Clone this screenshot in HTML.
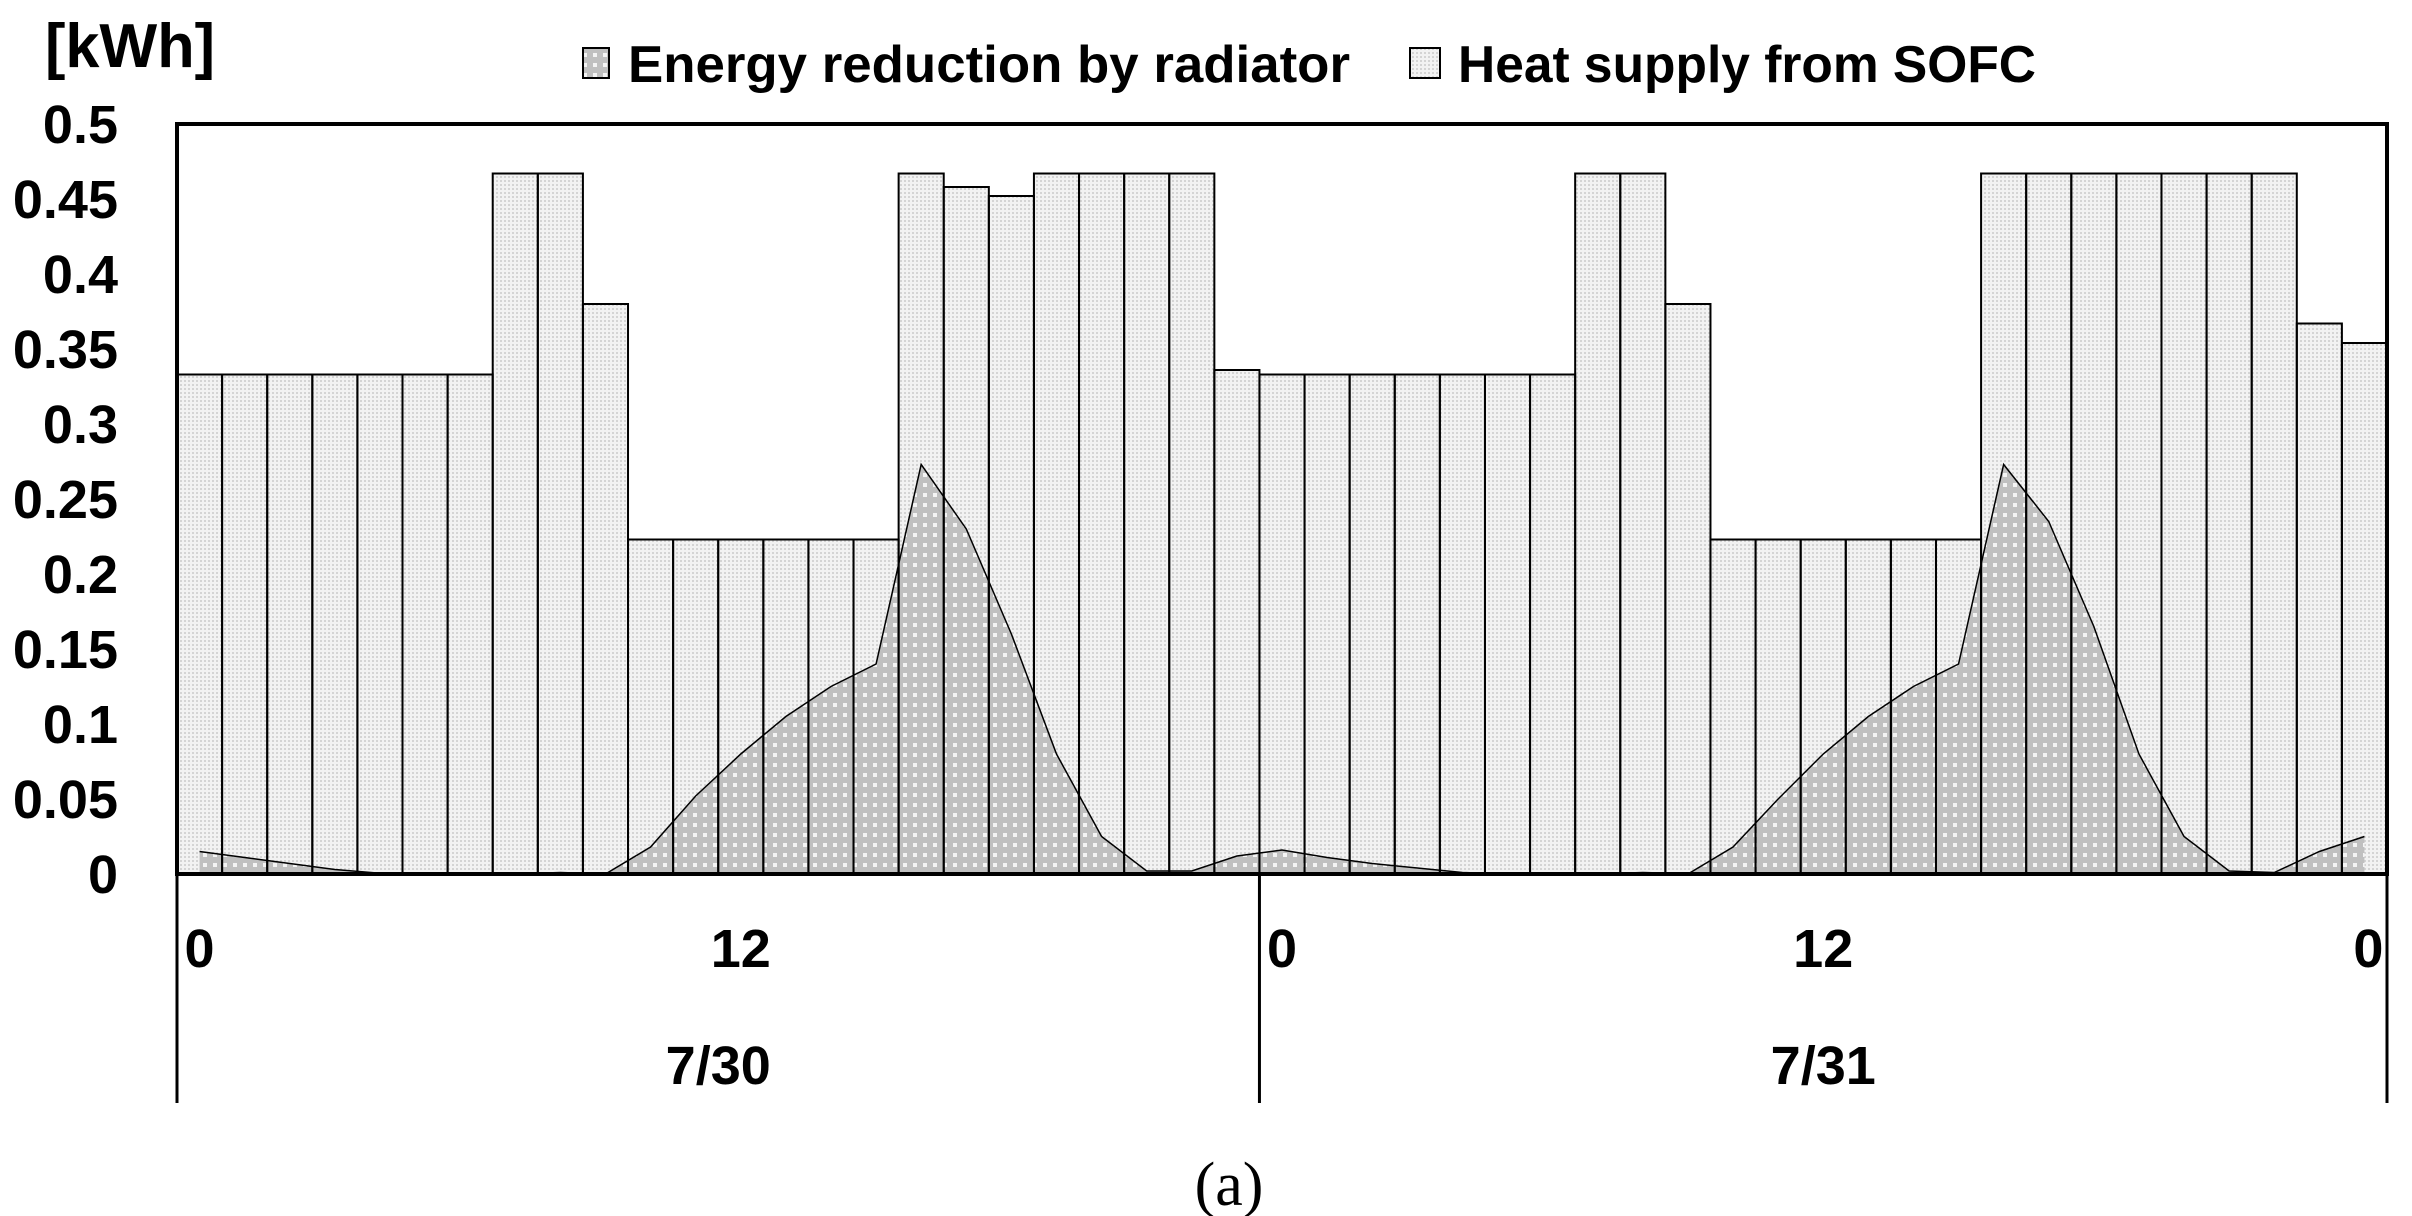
<!DOCTYPE html>
<html><head><meta charset="utf-8"><style>
html,body{margin:0;padding:0;background:#fff;}
svg{display:block;}
text{font-family:"Liberation Sans",sans-serif;font-weight:bold;fill:#000;}
</style></head><body>
<svg id="chart" width="2412" height="1216" viewBox="0 0 2412 1216" xmlns="http://www.w3.org/2000/svg">
<defs>
<pattern id="barPat" width="4" height="4" patternUnits="userSpaceOnUse">
<rect width="4" height="4" fill="#f2f2f2"/><rect width="2" height="2" fill="#d4d4d4"/>
</pattern>
<pattern id="areaPat" width="10" height="10" patternUnits="userSpaceOnUse">
<rect width="10" height="10" fill="#c0c0c0"/><rect x="3" y="3" width="4" height="4" fill="#f4f4f4"/>
</pattern>
</defs>
<g id="legend">
<rect x="583" y="48" width="26" height="30" fill="url(#areaPat)" stroke="#000" stroke-width="2"/>
<text x="628" y="82" font-size="52" textLength="722" lengthAdjust="spacingAndGlyphs">Energy reduction by radiator</text>
<rect x="1410" y="48" width="30" height="30" fill="url(#barPat)" stroke="#000" stroke-width="2"/>
<text x="1458" y="82" font-size="52" textLength="578" lengthAdjust="spacingAndGlyphs">Heat supply from SOFC</text>
</g>
<text x="45" y="67" font-size="62" textLength="170" lengthAdjust="spacingAndGlyphs">[kWh]</text>
<g id="bars"></g>
<g id="area"></g>
<g id="barlines"></g>
<g id="yticks"></g>
<g id="xaxis"></g>
<text x="1229" y="1205" font-size="62" text-anchor="middle" style="font-family:'Liberation Serif',serif;font-weight:normal">(a)</text>
</svg>
<script>
const heatSupply = [0.333,0.333,0.333,0.333,0.333,0.333,0.333,0.467,0.467,0.38,0.223,0.223,0.223,0.223,0.223,0.223,0.467,0.458,0.452,0.467,0.467,0.467,0.467,0.336,
0.333,0.333,0.333,0.333,0.333,0.333,0.333,0.467,0.467,0.38,0.223,0.223,0.223,0.223,0.223,0.223,0.467,0.467,0.467,0.467,0.467,0.467,0.467,0.367,0.354];
const radiator = [0.015,0.011,0.007,0.003,0.0005,0,0,0,0.001,0,0.018,0.052,0.08,0.105,0.125,0.14,0.273,0.23,0.16,0.08,0.025,0.002,0.002,0.012,
0.016,0.011,0.007,0.004,0.001,0,0,0,0.001,0,0.018,0.05,0.08,0.105,0.125,0.14,0.273,0.235,0.165,0.08,0.025,0.002,0.001,0.015,0.025];
const yTicks = [0,0.05,0.1,0.15,0.2,0.25,0.3,0.35,0.4,0.45,0.5];
const yTickLabels = ["0","0.05","0.1","0.15","0.2","0.25","0.3","0.35","0.4","0.45","0.5"];
const hourTickIdx = [0,12,24,36,48];
const hourTickLabels = ["0","12","0","12","0"];
const dayLabels = ["7/30","7/31"];
const dayStarts = [0,24];
const dayEnds = [24,49];

const NS="http://www.w3.org/2000/svg";
const L=177,R=2387,T=124,Z=874,YMAX=0.5;
const n=heatSupply.length;
const bw=(R-L)/n;
const xs=i=>L+i*bw;
const xc=i=>L+(i+0.5)*bw;
const ys=v=>Z-(v/YMAX)*(Z-T);
function mk(tag,attrs,parent){const e=document.createElementNS(NS,tag);for(const k in attrs)e.setAttribute(k,attrs[k]);parent.appendChild(e);return e;}
const gB=document.getElementById('bars'),gA=document.getElementById('area'),gL=document.getElementById('barlines'),gY=document.getElementById('yticks'),gX=document.getElementById('xaxis');
heatSupply.forEach((v,i)=>{
  const r=mk('rect',{x:xs(i),y:ys(v),width:bw,height:Z-ys(v),fill:'url(#barPat)'},gB);
  
  
});
let d='M'+xc(0)+','+Z;
radiator.forEach((v,i)=>{d+=' L'+xc(i)+','+ys(v);});
d+=' L'+xc(n-1)+','+Z+' Z';
const ar=mk('path',{d:d,fill:'url(#areaPat)',stroke:'none'},gA);


let ld='';
radiator.forEach((v,i)=>{ld+=(i?' L':'M')+xc(i)+','+ys(v);});
const ln=mk('path',{d:ld,fill:'none',stroke:'#000','stroke-width':1.5},gA);


heatSupply.forEach((v,i)=>{
  const r=mk('rect',{x:xs(i),y:ys(v),width:bw,height:Z-ys(v),fill:'none',stroke:'#000','stroke-width':2},gL);
  
  
});
const frame=mk('rect',{x:L,y:T,width:R-L,height:Z-T,fill:'none',stroke:'#000','stroke-width':4},gL);


const za=mk('line',{x1:L,x2:R,y1:Z,y2:Z,stroke:'#000','stroke-width':4},gL);


yTicks.forEach((v,i)=>{
  const t=mk('text',{x:118,y:ys(v)+19,'font-size':54,'text-anchor':'end'},gY);
  t.textContent=yTickLabels[i];
  
  
});
hourTickIdx.forEach((k,i)=>{
  const t=mk('text',{x:(k===n-1?xc(k)+4:xc(k)),y:967,'font-size':54,'text-anchor':'middle'},gX);
  t.textContent=hourTickLabels[i];
  
  
});
[L,xs(24),R].forEach(x=>{
  const l=mk('line',{x1:x,x2:x,y1:Z,y2:1103,stroke:'#000','stroke-width':3},gX);
  
  
});
dayLabels.forEach((s,i)=>{
  const t=mk('text',{x:(xs(dayStarts[i])+xs(dayEnds[i]))/2,y:1084,'font-size':54,'text-anchor':'middle'},gX);
  t.textContent=s;
  
  
});
</script>
</body></html>
